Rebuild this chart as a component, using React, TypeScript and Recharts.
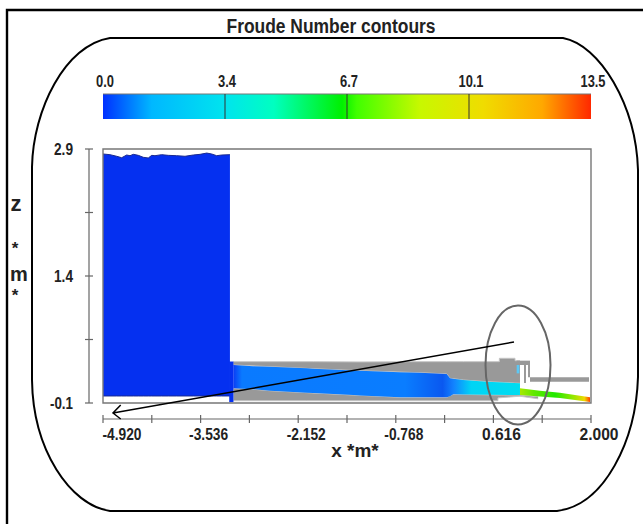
import { ComposedChart, Area, XAxis, YAxis, ReferenceLine, ReferenceArea } from 'recharts'

const W = 643
const H = 524

// colour bar
const barTicks = [0, 3.375, 6.75, 10.125, 13.5]
const barLabels = ['0.0', '3.4', '6.7', '10.1', '13.5']
const barData = [
  { v: 0, y: 1 },
  { v: 13.5, y: 1 },
]

// axes
const xTicks = [-4.92, -4.228, -3.536, -2.844, -2.152, -1.46, -0.768, -0.076, 0.616, 1.308, 2.0]
const zTicks = [2.9, 2.15, 1.4, 0.65, -0.1]

// water in the tank: [x, bottom, free surface]
const tank: number[][] = [
  [-4.92, -0.017, 2.841],
  [-4.821, -0.017, 2.833],
  [-4.726, -0.017, 2.814],
  [-4.655, -0.017, 2.797],
  [-4.584, -0.017, 2.829],
  [-4.537, -0.017, 2.821],
  [-4.49, -0.017, 2.837],
  [-4.419, -0.017, 2.825],
  [-4.349, -0.017, 2.802],
  [-4.278, -0.017, 2.794],
  [-4.229, -0.017, 2.825],
  [-4.183, -0.017, 2.821],
  [-4.088, -0.017, 2.833],
  [-3.994, -0.017, 2.825],
  [-3.875, -0.017, 2.821],
  [-3.757, -0.017, 2.814],
  [-3.64, -0.017, 2.829],
  [-3.544, -0.017, 2.837],
  [-3.449, -0.017, 2.852],
  [-3.379, -0.017, 2.841],
  [-3.308, -0.017, 2.821],
  [-3.237, -0.017, 2.829],
  [-3.12, -0.017, 2.833],
]
const tankFoot: number[][] = [
  [-3.13, -0.09, 0.39],
  [-3.07, -0.09, 0.39],
]

// channel flow
const channel: number[][] = [
  [-3.072, 0.074, 0.349],
  [-2.789, 0.062, 0.335],
  [-2.552, 0.045, 0.329],
  [-2.031, 0.022, 0.31],
  [-1.938, 0.018, 0.305],
  [-1.371, -0.006, 0.285],
  [-1.276, -0.01, 0.281],
  [-0.708, -0.033, 0.262],
  [-0.425, -0.033, 0.258],
  [-0.046, -0.033, 0.243],
  [0.001, -0.02, 0.192],
  [0.047, 0.003, 0.185],
  [0.189, 0.0, 0.172],
  [0.521, -0.004, 0.152],
  [0.993, -0.006, 0.133],
]
const jet: number[][] = [
  [0.993, -0.006, 0.074],
  [1.276, -0.023, 0.046],
  [1.56, -0.041, 0.022],
  [1.986, -0.088, -0.033],
]

// solid parts
const upperGrey: number[][] = [
  [-3.072, 0.349, 0.388],
  [-2.552, 0.329, 0.388],
  [-1.938, 0.305, 0.388],
  [-1.276, 0.281, 0.385],
  [-0.425, 0.258, 0.388],
  [-0.046, 0.243, 0.388],
  [0.001, 0.192, 0.388],
  [0.189, 0.172, 0.388],
  [0.521, 0.152, 0.388],
  [0.7, 0.145, 0.388],
  [0.701, 0.145, 0.428],
  [0.922, 0.135, 0.428],
  [0.923, 0.135, 0.4],
  [0.993, 0.133, 0.4],
]
const lowerGrey: number[][] = [
  [-3.07, -0.073, 0.074],
  [-2.789, -0.073, 0.062],
  [-2.552, -0.073, 0.045],
  [-2.031, -0.073, 0.022],
  [-1.371, -0.073, -0.006],
  [-0.708, -0.073, -0.033],
  [-0.046, -0.073, -0.033],
  [0.047, -0.073, 0.003],
  [0.68, -0.073, -0.005],
  [0.681, -0.04, -0.005],
  [0.993, -0.02, -0.006],
  [1.25, -0.05, -0.025],
]
const pillarTop: number[][] = [
  [0.946, 0.349, 0.4],
  [1.135, 0.349, 0.4],
]
const pillarMid: number[][] = [
  [1.05, 0.136, 0.349],
  [1.078, 0.136, 0.349],
]
const pillarRight: number[][] = [
  [1.107, 0.203, 0.349],
  [1.135, 0.203, 0.349],
]
const tailBand: number[][] = [
  [1.135, 0.152, 0.203],
  [1.972, 0.152, 0.203],
]
const gateWindow: number[][] = [
  [0.946, 0.25, 0.349],
  [0.985, 0.25, 0.349],
]

const toRows = (rows: number[][]) => rows.map(([x, lo, hi]) => ({ x, range: [lo, hi] }))

const GREY = '#999999'
const EDGE = '#c6c6c6'
const AXIS = '#666666'
const labelFont = { fontFamily: 'Liberation Sans', fontWeight: 700, fill: '#222222' }

// recharts hands custom ticks a position 8px off the axis line (tick size + margin)
function XTick({ x, y, index }: any) {
  const axisY = y - 8
  const labelled = index % 2 === 0
  const dx = index === 0 ? 19 : 8
  return (
    <g>
      <line x1={x} x2={x} y1={axisY - 4} y2={axisY + 4} stroke={AXIS} strokeWidth={1.2} />
      {labelled && (
        <text x={x + dx} y={axisY + 21} textAnchor="middle" fontSize={17} textLength={39} lengthAdjust="spacingAndGlyphs" {...labelFont}>
          {xTicks[index].toFixed(3)}
        </text>
      )}
    </g>
  )
}

function ZTick({ x, y, index }: any) {
  const axisX = x + 8
  const labelled = index % 2 === 0
  const label = zTicks[index].toFixed(1)
  return (
    <g>
      <line x1={axisX - 4} x2={axisX + 4} y1={y} y2={y} stroke={AXIS} strokeWidth={1.2} />
      {labelled && (
        <text x={axisX - 16} y={y + 6} textAnchor="end" fontSize={16} textLength={label.length > 3 ? 23 : 19} lengthAdjust="spacingAndGlyphs" {...labelFont}>
          {label}
        </text>
      )}
    </g>
  )
}

function BarTick({ x, y, index }: any) {
  return (
    <text x={x + 2} y={y + 1} textAnchor="middle" fontSize={16} textLength={barLabels[index].length > 3 ? 25 : 18} lengthAdjust="spacingAndGlyphs" {...labelFont}>
      {barLabels[index]}
    </text>
  )
}

function Patch({ rows, fill, stroke = 'none' }: { rows: number[][]; fill: string; stroke?: string }) {
  return (
    <Area
      data={toRows(rows)}
      dataKey="range"
      type="linear"
      xAxisId="main"
      yAxisId="main"
      fill={fill}
      fillOpacity={1}
      stroke={stroke}
      dot={false}
      activeDot={false}
      isAnimationActive={false}
    />
  )
}

export default function App() {
  return (
    <div style={{ position: 'absolute', left: 0, top: 0, width: W, height: H, background: '#fff', overflow: 'hidden' }}>
      <div style={{ position: 'absolute', left: 0, top: 0 }}>
        <ComposedChart width={W} height={H} margin={{ top: 149, right: 52, bottom: 0, left: 0 }}>
          <defs>
            <linearGradient id="channelFill" x1="0" y1="0" x2="1" y2="0">
              <stop offset="0" stopColor="#0a3cf5" />
              <stop offset="0.03" stopColor="#0a7aff" />
              <stop offset="0.6" stopColor="#0a7dff" />
              <stop offset="0.73" stopColor="#0a58f0" />
              <stop offset="0.77" stopColor="#1284ff" />
              <stop offset="0.83" stopColor="#00d4f5" />
              <stop offset="1" stopColor="#00dcf0" />
            </linearGradient>
            <linearGradient id="jetFill" x1="0" y1="0" x2="1" y2="0">
              <stop offset="0" stopColor="#a8e800" />
              <stop offset="0.2" stopColor="#60e800" />
              <stop offset="0.5" stopColor="#20e800" />
              <stop offset="0.75" stopColor="#90e800" />
              <stop offset="0.92" stopColor="#f0d800" />
              <stop offset="1" stopColor="#ff4000" />
            </linearGradient>
          </defs>
          {/* first axes are only spacers, they push the real ones away from the frame */}
          <XAxis xAxisId="main" type="number" dataKey="x" domain={[-4.92, 2]} height={16} tick={false} axisLine={false} tickLine={false} allowDataOverflow />
          <XAxis
            xAxisId="real"
            type="number"
            dataKey="x"
            domain={[-4.92, 2]}
            ticks={xTicks}
            interval={0}
            height={105}
            tick={<XTick />}
            tickLine={false}
            axisLine={{ stroke: AXIS, strokeWidth: 1.2 }}
          />
          <YAxis yAxisId="main" type="number" domain={[-0.1, 2.9]} width={14} tick={false} axisLine={false} tickLine={false} allowDataOverflow />
          <YAxis
            yAxisId="real"
            type="number"
            domain={[-0.1, 2.9]}
            ticks={zTicks}
            interval={0}
            width={89}
            tick={<ZTick />}
            tickLine={false}
            axisLine={{ stroke: AXIS, strokeWidth: 1.2 }}
          />
          {/* invisible, keeps the outer axes attached to a series so they get ticks */}
          <Area
            data={toRows(tank)}
            dataKey="range"
            xAxisId="real"
            yAxisId="real"
            fill="none"
            stroke="none"
            dot={false}
            activeDot={false}
            isAnimationActive={false}
          />
          {Patch({ rows: tank, fill: '#0530f0', stroke: '#1a2a90' })}
          {Patch({ rows: upperGrey, fill: GREY, stroke: EDGE })}
          {Patch({ rows: lowerGrey, fill: GREY, stroke: EDGE })}
          {Patch({ rows: pillarTop, fill: GREY })}
          {Patch({ rows: pillarMid, fill: GREY })}
          {Patch({ rows: pillarRight, fill: GREY })}
          {Patch({ rows: tailBand, fill: GREY })}
          {Patch({ rows: channel, fill: 'url(#channelFill)' })}
          {Patch({ rows: jet, fill: 'url(#jetFill)' })}
          {Patch({ rows: gateWindow, fill: '#5cc8f5' })}
          {Patch({ rows: tankFoot, fill: '#0530f0' })}
          <ReferenceArea xAxisId="main" yAxisId="main" x1={-4.92} x2={2} y1={-0.1} y2={2.9} fill="none" stroke="#777777" strokeWidth={1.4} />
        </ComposedChart>
      </div>

      <div style={{ position: 'absolute', left: 0, top: 0 }}>
        <ComposedChart width={W} height={130} data={barData} margin={{ top: 74, right: 52, bottom: 11, left: 103 }}>
          <defs>
            <linearGradient id="barFill" x1="0" y1="0" x2="1" y2="0">
              <stop offset="0" stopColor="#0030ff" />
              <stop offset="0.1" stopColor="#00b8ff" />
              <stop offset="0.25" stopColor="#00e4ee" />
              <stop offset="0.35" stopColor="#00ffc0" />
              <stop offset="0.49" stopColor="#00f000" />
              <stop offset="0.52" stopColor="#40ff00" />
              <stop offset="0.65" stopColor="#c8f800" />
              <stop offset="0.78" stopColor="#f0dc00" />
              <stop offset="0.9" stopColor="#ffa800" />
              <stop offset="1" stopColor="#ff2800" />
            </linearGradient>
          </defs>
          <XAxis type="number" dataKey="v" orientation="top" domain={[0, 13.5]} ticks={barTicks} interval={0} height={20} tick={<BarTick />} tickLine={false} axisLine={false} />
          <YAxis type="number" domain={[0, 1]} hide />
          <Area dataKey="y" type="linear" fill="url(#barFill)" fillOpacity={1} stroke="#777777" strokeWidth={1} dot={false} activeDot={false} isAnimationActive={false} />
          {barTicks.slice(1, 4).map((t) => (
            <ReferenceLine key={t} x={t} stroke="#333333" strokeWidth={1} />
          ))}
        </ComposedChart>
      </div>

      {/* page frame, hand drawn outline and annotation on top of the plot */}
      <svg width={W} height={H} style={{ position: 'absolute', left: 0, top: 0 }}>
        <path d="M7 524 V10 H643" fill="none" stroke="#000" strokeWidth={2.4} />
        <path
          d="M110 38 H563 C600 45 636 105 638 170 V377 C636 440 605 505 557 511 H110 C70 505 33 450 32 380 V167 C33 110 65 45 110 38 Z"
          fill="none"
          stroke="#000"
          strokeWidth={2}
        />
        <ellipse cx={518} cy={365} rx={32.5} ry={59.5} fill="none" stroke="#666" strokeWidth={2} />
        <path d="M514 342 L113 413 M120.7 405 L113 413 L120.7 419" fill="none" stroke="#000" strokeWidth={1.5} />
        <text x={331} y={33} textAnchor="middle" fontSize={20} textLength={209} lengthAdjust="spacingAndGlyphs" {...labelFont}>
          Froude Number contours
        </text>
        <text x={355} y={457} textAnchor="middle" fontSize={19} {...labelFont}>
          x *m*
        </text>
        <text x={16} y={211} textAnchor="middle" fontSize={22} {...labelFont}>z</text>
        <text x={15} y={254} textAnchor="middle" fontSize={17} {...labelFont}>*</text>
        <text x={19} y={281} textAnchor="middle" fontSize={20} {...labelFont}>m</text>
        <text x={15} y={301} textAnchor="middle" fontSize={17} {...labelFont}>*</text>
      </svg>
    </div>
  )
}
